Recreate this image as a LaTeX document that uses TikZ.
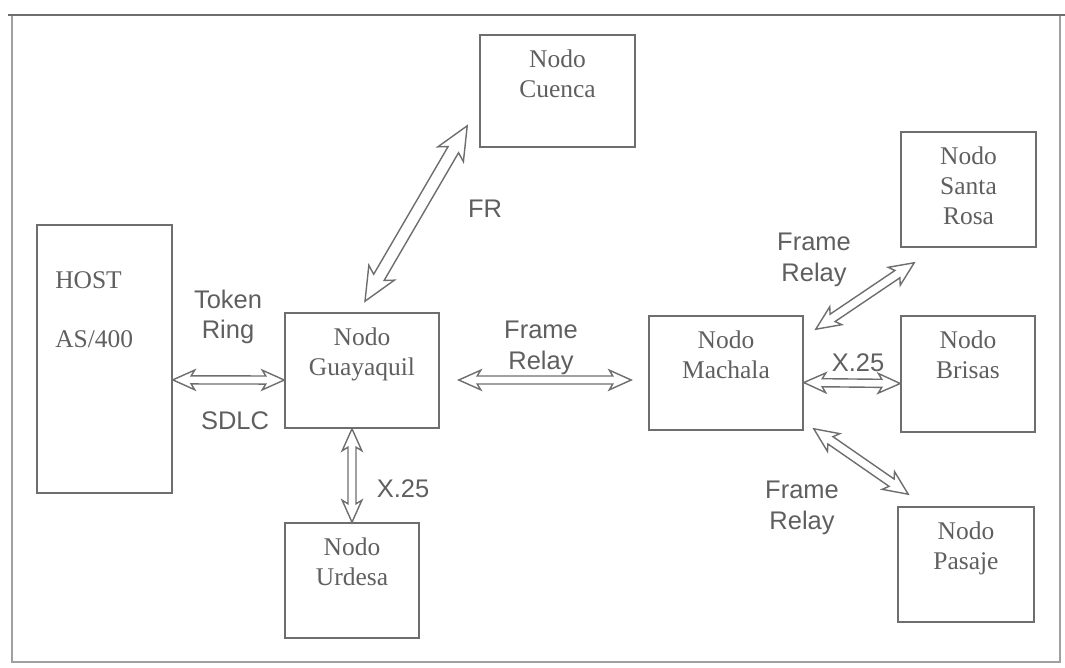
\documentclass[tikz,border=0pt]{standalone}
\usepackage{fontspec}
\setmainfont{Liberation Serif}
\newfontfamily\labelfont{Liberation Sans}
\usetikzlibrary{calc, positioning}
\definecolor{boxgray}{RGB}{110,110,110}
\definecolor{textgray}{RGB}{95,95,95}
\definecolor{framegray}{RGB}{160,160,160}

% hollow double arrow between two points, optional size factor
\newlength{\arrhl}\newlength{\arrhj}\newlength{\arrhw}\newlength{\arrsw}
\newcommand{\dlink}[3][1]{%
  \setlength{\arrhl}{#1\dimexpr 12.5pt\relax}%
  \setlength{\arrhj}{#1\dimexpr 10.5pt\relax}%
  \setlength{\arrhw}{#1\dimexpr 5.6pt\relax}%
  \setlength{\arrsw}{#1\dimexpr 2.3pt\relax}%
  \draw[link] (#2)
    -- ($($(#2)!\the\arrhl!(#3)$)!\the\arrhw!90:(#3)$)
    -- ($($(#2)!\the\arrhj!(#3)$)!\the\arrsw!90:(#3)$)
    -- ($($(#3)!\the\arrhj!(#2)$)!\the\arrsw!90:(#3)$)
    -- ($($(#3)!\the\arrhl!(#2)$)!\the\arrhw!90:(#3)$)
    -- (#3)
    -- ($($(#3)!\the\arrhl!(#2)$)!\the\arrhw!-90:(#3)$)
    -- ($($(#3)!\the\arrhj!(#2)$)!\the\arrsw!-90:(#3)$)
    -- ($($(#2)!\the\arrhj!(#3)$)!\the\arrsw!-90:(#3)$)
    -- ($($(#2)!\the\arrhl!(#3)$)!\the\arrhw!-90:(#3)$)
    -- cycle;}

\begin{document}
\begin{tikzpicture}[x=0.02cm, y=-0.02cm,
  box/.style={draw=boxgray, line width=0.9pt, inner sep=0pt},
  nodetext/.style={anchor=north, yshift=-5.6pt, align=center, text=textgray, font=\fontsize{14.5}{17}\selectfont},
  hosttext/.style={anchor=north west, xshift=7.3pt, yshift=-23.3pt, align=left, text=textgray, font=\fontsize{14.5}{17}\selectfont},
  linktext/.style={align=center, text=textgray, font=\labelfont\fontsize{14.5}{17.5}\selectfont},
  link/.style={draw=boxgray, line width=0.8pt, fill=white, line join=miter}
]
  \useasboundingbox (0,0) rectangle (1065,668);

  % frame of the figure
  \draw[framegray, line width=0.7pt] (12,15) rectangle (1060,662);
  \draw[boxgray, line width=1.4pt] (8,15) -- (1065,15);

  % host
  \node[box, minimum width=2.70cm, minimum height=5.36cm, label={[hosttext]north west:{HOST\\[17pt]AS/400}}] (host) at (104.5,359) {};

  % nodes
  \node[box, minimum width=3.08cm, minimum height=2.30cm, label={[nodetext]north:{Nodo\\Guayaquil}}] (guay) at (362,370.5) {};
  \node[box, minimum width=3.10cm, minimum height=2.24cm, label={[nodetext]north:{Nodo\\Cuenca}}] (cuenca) at (557.5,91) {};
  \node[box, minimum width=2.68cm, minimum height=2.30cm, label={[nodetext]north:{Nodo\\Urdesa}}] (urdesa) at (352,580.5) {};
  \node[box, minimum width=3.08cm, minimum height=2.28cm, label={[nodetext]north:{Nodo\\Machala}}] (mach) at (726,373) {};
  \node[box, minimum width=2.70cm, minimum height=2.30cm, label={[nodetext]north:{Nodo\\Santa\\Rosa}}] (srosa) at (968.5,189.5) {};
  \node[box, minimum width=2.68cm, minimum height=2.32cm, label={[nodetext]north:{Nodo\\Brisas}}] (brisas) at (968,374) {};
  \node[box, minimum width=2.72cm, minimum height=2.30cm, label={[nodetext]north:{Nodo\\Pasaje}}] (pasaje) at (966,564.5) {};

  % free ends of the links
  \coordinate (gmA) at ([shift={(19,9.5)}]guay.east);
  \coordinate (gmB) at ([shift={(-17,7)}]mach.west);
  \coordinate (cuA) at ([shift={(3,-11)}]guay.north);
  \coordinate (cuB) at ([shift={(-12,-22)}]cuenca.south west);
  \coordinate (urA) at (urdesa.north |- guay.south);
  \coordinate (srA) at ([shift={(12,14)}]mach.north east);
  \coordinate (srB) at ([shift={(14,15)}]srosa.south west);
  \coordinate (paA) at ([shift={(10,-2)}]mach.south east);
  \coordinate (paB) at ([shift={(11,-12)}]pasaje.north west);

  % links
  \dlink{host.-17}{guay.187}
  \dlink{gmA}{gmB}
  \dlink[1.5]{cuA}{cuB}
  \dlink{urA}{urdesa.north}
  \dlink[1.1]{srA}{srB}
  \dlink{mach.-7}{brisas.188}
  \dlink[1.1]{paA}{paB}

  % link labels
  \node[linktext] (tr) at (228,317) {Token\\Ring};
  \node[linktext] (sdlc) at (235,421) {SDLC};
  \node[linktext] (fr) at (485,209) {FR};
  \node[linktext] (gmfr) at (541,348) {Frame\\Relay};
  \node[linktext] (urx) at (403,489) {X.25};
  \node[linktext] (srfr) at (814,260) {Frame\\Relay};
  \node[linktext] (brx) at (858,363) {X.25};
  \node[linktext] (pafr) at (802,508) {Frame\\Relay};
\end{tikzpicture}
\end{document}
